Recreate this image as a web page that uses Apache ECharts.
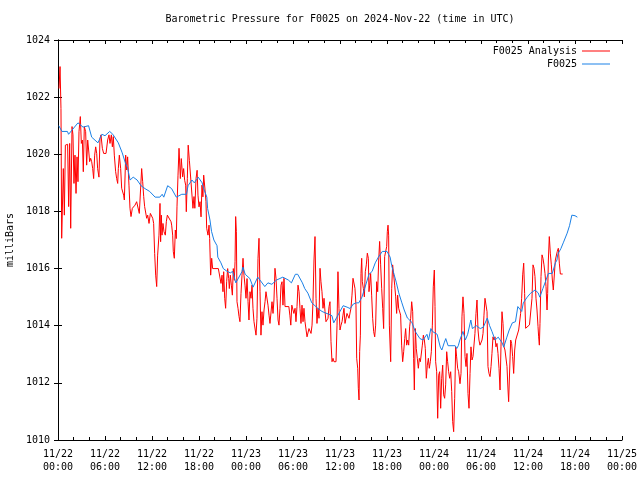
<!DOCTYPE html>
<html><head><meta charset="utf-8">
<script src="https://cdn.jsdelivr.net/npm/echarts@6/dist/echarts.min.js"></script>
<style>html,body{margin:0;padding:0;background:#fff}#c{width:640px;height:480px}</style>
</head><body><div id="c"></div>
<script>
var titleText = 'Barometric Pressure for F0025 on 2024-Nov-22 (time in UTC)';
var seriesNames = ['F0025 Analysis', 'F0025'];
var yTicks = [1010, 1012, 1014, 1016, 1018, 1020, 1022, 1024];
var xTickHours = [0, 6, 12, 18, 24, 30, 36, 42, 48, 54, 60, 66, 72];
var startDay = 22;

var redHours = [0.13,0.26,0.38,0.47,0.68,0.81,0.94,1.23,1.36,1.49,1.62,1.79,1.91,2.04,2.17,2.30,2.43,2.55,2.68,2.85,2.98,3.11,3.23,3.36,3.53,3.66,3.79,3.91,4.04,4.17,4.30,4.43,4.55,4.68,4.81,4.94,5.06,5.23,5.36,5.49,5.66,5.83,6.13,6.34,6.51,6.64,6.81,6.94,7.06,7.19,7.36,7.49,7.62,7.70,7.83,8.00,8.13,8.26,8.38,8.47,8.64,8.77,8.89,9.06,9.19,9.32,9.49,9.83,10.04,10.26,10.38,10.51,10.68,10.81,10.94,11.06,11.19,11.32,11.45,11.62,11.79,11.96,12.09,12.21,12.34,12.47,12.60,12.72,12.89,
13.02,13.10,13.19,13.28,13.40,13.53,13.70,13.83,13.96,14.17,14.43,14.51,14.64,14.72,14.85,14.98,15.10,15.19,15.32,15.45,15.62,15.74,15.91,16.04,16.17,16.30,16.38,16.51,16.62,16.77,16.98,17.23,17.36,17.47,17.62,17.76,17.87,18.00,18.13,18.26,18.38,18.50,18.60,18.77,18.89,18.98,19.15,19.28,19.36,19.49,19.62,19.74,19.87,20.04,20.26,20.47,20.68,20.81,20.94,21.06,21.15,21.28,21.40,21.53,21.66,21.79,21.87,22.00,22.13,22.26,22.38,22.51,22.60,22.68,22.77,22.85,22.98,23.11,23.23,23.36,23.49,23.62,23.74,23.87,24.00,24.13,24.26,24.38,24.51,24.64,24.77,24.89,25.02,
25.28,25.40,25.53,25.66,25.79,25.91,26.04,26.17,26.30,26.43,26.55,26.68,26.81,26.94,27.06,27.19,27.32,27.45,27.57,27.70,27.83,27.96,28.09,28.21,28.34,28.47,28.60,28.72,28.85,28.98,29.47,29.60,29.72,29.85,29.98,30.11,30.26,30.38,30.51,30.64,30.77,30.89,31.02,31.15,31.28,31.40,31.53,31.79,31.91,32.04,32.17,32.30,32.43,32.55,32.68,32.81,32.94,33.06,33.19,33.32,33.45,33.57,33.70,33.83,33.96,34.09,34.21,34.34,34.47,34.60,34.72,34.85,34.98,35.11,35.23,35.36,35.49,35.62,35.74,35.87,36.00,36.13,36.26,36.38,36.51,36.64,36.77,36.89,37.02,37.15,37.28,37.40,37.53,37.66,37.79,37.91,38.04,
38.13,38.26,38.34,38.43,38.51,38.60,38.68,38.77,38.85,38.98,39.11,39.23,39.36,39.49,39.62,39.70,39.79,39.91,40.04,40.17,40.30,40.43,40.55,40.68,40.81,40.94,41.06,41.19,41.32,41.45,41.57,41.70,41.83,41.96,42.04,42.13,42.21,42.30,42.47,42.60,42.72,42.85,42.98,43.11,43.23,43.36,43.49,43.62,43.74,43.87,44.00,44.13,44.26,44.38,44.51,44.64,44.77,44.89,45.02,45.15,45.28,45.40,45.49,45.62,45.74,45.87,46.00,46.13,46.26,46.51,46.64,46.77,46.89,47.02,47.15,47.28,47.40,47.53,47.66,47.79,47.91,48.04,48.13,48.21,48.34,48.47,48.60,48.72,48.85,48.98,49.11,49.23,49.36,49.49,49.62,49.74,49.87,50.00,50.13,50.26,50.38,50.51,50.64,50.77,50.89,51.02,51.15,
51.32,51.45,51.57,51.70,51.83,51.96,52.09,52.21,52.34,52.47,52.60,52.72,52.85,52.98,53.11,53.23,53.36,53.49,53.62,53.74,53.87,54.13,54.26,54.38,54.51,54.64,54.77,54.89,55.02,55.15,55.28,55.40,55.53,55.66,55.79,55.91,56.04,56.17,56.30,56.43,56.55,56.68,56.81,56.94,57.06,57.32,57.45,57.53,57.66,57.79,57.91,58.04,58.17,58.30,58.43,58.55,58.81,59.06,59.19,59.32,59.45,59.57,59.70,59.83,60.19,60.51,60.64,60.77,60.89,61.02,61.15,61.28,61.36,61.45,61.53,61.66,61.79,61.91,62.04,62.17,62.30,62.43,62.51,62.60,62.72,62.85,62.98,63.11,63.23,63.36,63.49,63.62,63.74,63.87,64.00,64.13,64.43];

var redValues = [1022.3,1023.07,1021.6,1017.06,1019.5,1017.87,1020.32,1020.35,1018.17,1020.38,1017.41,1020.97,1020.68,1018.98,1019.97,1018.63,1019.91,1019.04,1020.79,1021.32,1020.38,1020.5,1019.39,1020.97,1020.79,1019.62,1020.5,1020.15,1019.74,1019.86,1019.74,1019.5,1019.15,1019.97,1020.26,1020.03,1019.5,1019.2,1020.56,1020.68,1020.21,1020.03,1020.03,1020.5,1020.68,1020.38,1020.68,1020.26,1020.62,1019.97,1019.39,1019.15,1018.98,1019.5,1019.97,1019.5,1018.81,1018.81,1018.57,1018.4,1019.97,1019.45,1019.91,1018.92,1018.11,1017.82,1018.11,1018.22,1018.34,1018.34,1017.93,1017.87,1019.5,1019.04,1018.52,1018.17,1018.11,1017.76,1017.87,1017.58,1017.93,1017.87,1017.76,1017.58,1016.53,1015.77,1015.37,1016.47,1017.17,
1018.28,1016.94,1017.87,1017.17,1017.58,1017.29,1017.17,1017.64,1017.87,1017.81,1017.64,1017.52,1017.17,1016.59,1016.36,1017.35,1017.05,1018.16,1019.27,1020.21,1019.15,1019.85,1019.21,1019.5,1019.09,1018.92,1017.99,1019.15,1020.32,1019.79,1019.03,1018.11,1018.52,1018.11,1019.15,1019.44,1018.57,1018.16,1018.34,1017.81,1018.92,1018.51,1019.27,1018.75,1018.34,1017.41,1017.17,1017.52,1017.05,1015.77,1016.36,1016.0,1015.95,1016.0,1015.95,1016.0,1016.07,1015.48,1015.77,1015.19,1015.89,1014.96,1014.61,1015.54,1016.0,1015.65,1015.3,1015.77,1015.42,1015.07,1016.0,1015.59,1016.24,1017.82,1017.29,1014.84,1014.61,1014.32,1014.14,1015.12,1015.77,1016.36,1015.77,1015.42,1014.96,1015.65,1014.84,1014.2,1015.19,1014.96,1015.42,1014.61,1014.14,
1013.67,1014.26,1016.36,1017.06,1015.19,1013.67,1014.49,1014.02,1014.55,1014.84,1015.19,1015.13,1014.72,1014.37,1014.08,1014.02,1014.84,1014.43,1014.9,1016.01,1015.66,1014.96,1014.2,1014.02,1014.61,1015.42,1015.54,1014.72,1015.66,1014.67,1014.67,1014.37,1014.02,1014.72,1014.78,1014.43,1014.61,1014.14,1014.67,1015.42,1015.19,1014.61,1014.08,1014.72,1014.14,1014.61,1014.14,1013.61,1013.67,1013.9,1013.9,1013.73,1014.02,1014.84,1016.3,1017.12,1014.96,1014.08,1014.61,1014.26,1016.01,1015.54,1015.19,1014.61,1014.96,1014.49,1014.14,1014.08,1014.26,1014.67,1014.84,1013.44,1012.74,1012.86,1012.74,1012.8,1012.74,1014.02,1015.89,1014.61,1013.85,1014.02,1014.14,1014.37,1014.61,1014.08,1014.14,1014.43,1014.49,1014.26,1014.32,1014.61,1015.07,1015.66,1015.72,1015.31,1014.72,
1012.86,1012.51,1011.81,1011.4,1013.09,1013.67,1015.83,1016.36,1015.54,1015.31,1015.01,1015.89,1016.13,1016.54,1016.36,1015.19,1015.42,1015.83,1015.07,1014.26,1013.79,1013.61,1014.02,1015.54,1015.19,1016.3,1016.95,1016.13,1015.31,1014.61,1013.9,1016.42,1016.36,1016.77,1017.29,1017.52,1017.17,1014.02,1012.74,1015.31,1016.13,1015.78,1015.42,1015.01,1014.43,1015.07,1014.61,1014.67,1014.37,1013.32,1012.74,1013.09,1013.55,1013.9,1013.32,1013.5,1013.32,1013.96,1014.26,1014.84,1014.49,1012.86,1011.75,1013.9,1013.2,1012.86,1012.51,1012.86,1012.74,1013.32,1013.67,1013.5,1013.2,1012.16,1012.62,1012.86,1012.51,1012.74,1013.09,1014.02,1015.36,1015.95,1014.67,1012.74,1012.39,1010.76,1012.27,1012.39,1011.11,1012.16,1012.62,1011.58,1011.46,1011.93,1013.09,1012.74,1012.39,1012.16,1012.39,1011.7,1010.65,1010.29,1011.46,1013.26,1012.91,1012.51,1012.39,
1011.97,1012.33,1014.31,1015.01,1014.43,1012.92,1012.57,1013.03,1011.63,1011.11,1012.33,1013.26,1012.8,1012.92,1012.86,1013.73,1014.43,1014.9,1013.85,1013.5,1013.32,1013.5,1013.73,1014.37,1014.96,1014.9,1014.49,1012.57,1012.33,1012.22,1012.57,1013.03,1013.61,1013.5,1013.61,1013.26,1013.38,1013.03,1012.51,1011.75,1013.26,1014.49,1014.08,1013.26,1013.15,1012.57,1011.75,1011.34,1012.45,1013.5,1013.38,1012.92,1012.33,1013.15,1013.5,1013.56,1013.85,1014.43,1014.96,1015.78,1016.19,1015.13,1013.91,1013.97,1014.03,1014.96,1016.13,1016.01,1015.72,1014.96,1014.55,1013.97,1013.61,1013.32,1014.08,1015.72,1016.48,1016.36,1016.13,1015.83,1015.37,1014.55,1015.13,1016.3,1017.12,1016.54,1016.13,1015.6,1015.25,1015.31,1016.3,1016.36,1016.6,1016.71,1016.19,1015.81,1015.81];

var blueHours = [0.1,0.5,1.2,1.35,2.55,3.2,3.9,4.3,5.1,5.6,6.0,6.6,7.0,7.7,8.2,8.6,8.9,9.2,9.6,10.1,10.6,11.1,11.7,12.4,13.0,13.3,13.5,14.0,14.5,15.1,15.3,15.8,16.4,16.6,17.1,17.4,17.9,18.4,18.6,19.0,19.1,19.4,19.6,19.9,20.3,20.4,20.8,21.1,21.6,22.0,22.3,22.7,23.5,23.6,23.9,24.5,24.9,25.5,26.4,26.8,27.3,27.9,28.7,29.4,29.8,30.3,30.6,31.2,31.5,31.9,32.4,32.8,33.2,33.7,34.1,34.6,34.97,35.2,35.6,36.0,36.4,36.9,37.3,37.7,38.1,38.4,38.8,39.2,39.7,40.1,40.5,40.9,41.4,42.0,42.4,42.6,42.9,43.2,43.5,43.9,44.2,44.6,44.9,45.2,45.6,46.2,46.6,47.1,47.3,47.6,47.8,48.4,48.8,49.0,49.3,49.5,49.8,50.7,50.9,51.1,51.3,51.7,52.0,52.3,52.7,52.9,53.4,53.9,54.3,54.8,55.1,55.4,55.8,56.2,56.7,56.9,57.3,57.6,58.0,58.4,58.7,59.2,59.4,59.9,60.3,60.9,61.3,61.5,61.9,62.3,62.6,63.1,63.5,63.7,63.8,64.2,64.5,65.0,65.3,65.6,66.0,66.3];
var blueValues = [1021.0,1020.8,1020.8,1020.7,1021.1,1020.95,1021.0,1020.6,1020.4,1020.7,1020.65,1020.8,1020.7,1020.4,1020.05,1019.7,1019.5,1019.1,1019.2,1019.1,1018.9,1018.8,1018.7,1018.5,1018.5,1018.6,1018.5,1018.9,1018.8,1018.5,1018.47,1018.6,1018.6,1018.9,1019.1,1019.0,1019.2,1019.0,1018.8,1018.5,1018.1,1017.7,1017.3,1017.0,1016.8,1016.4,1016.2,1016.0,1015.9,1015.85,1015.9,1015.5,1015.9,1016.05,1015.8,1015.65,1015.35,1015.7,1015.37,1015.5,1015.45,1015.6,1015.7,1015.6,1015.5,1015.8,1015.8,1015.5,1015.3,1015.14,1014.8,1014.7,1014.6,1014.5,1014.45,1014.4,1014.35,1014.1,1014.3,1014.5,1014.7,1014.65,1014.6,1014.76,1014.8,1014.8,1015.0,1015.35,1015.8,1015.9,1016.2,1016.4,1016.6,1016.6,1016.4,1016.1,1015.8,1015.5,1015.15,1014.8,1014.55,1014.27,1014.2,1014.1,1013.8,1013.55,1013.5,1013.7,1013.5,1013.9,1013.8,1013.7,1013.25,1013.15,1013.4,1013.55,1013.3,1013.3,1013.2,1013.3,1013.5,1013.8,1013.5,1013.7,1014.2,1013.9,1014.0,1013.9,1013.95,1014.27,1014.0,1013.8,1013.5,1013.6,1013.4,1013.25,1013.6,1013.85,1014.1,1014.14,1014.67,1014.5,1014.8,1015.0,1015.13,1015.25,1015.15,1015.0,1015.3,1015.6,1015.83,1015.83,1016.2,1016.3,1016.5,1016.7,1016.9,1017.24,1017.5,1017.87,1017.85,1017.8];

function pairs(xs, ys) { var out = []; for (var i = 0; i < xs.length; i++) out.push([xs[i], ys[i]]); return out; }
function pad(n) { return (n < 10 ? '0' : '') + n; }
function hourLabel(h) {
  var d = startDay + Math.floor(h / 24);
  var hh = Math.round(h % 24);
  return '11/' + pad(d) + '\n' + pad(hh) + ':00';
}

var font = 'DejaVu Sans Mono';
var chart = echarts.init(document.getElementById('c'), null, {renderer: 'canvas'});
var axisLineStyle = {show: true, lineStyle: {color: '#000', width: 1}};
var tickStyle = {show: true, inside: true, length: 4, lineStyle: {color: '#000', width: 1}};
var minorStyle = {show: true, splitNumber: 3, length: 3, lineStyle: {color: '#000', width: 1}};

chart.setOption({
  animation: false,
  backgroundColor: '#fff',
  title: {
    text: titleText, left: 340, top: 14, textAlign: 'center', padding: 0,
    textStyle: {fontFamily: font, fontSize: 10, fontWeight: 'normal', color: '#000'}
  },
  legend: {
    orient: 'vertical', right: 30, top: 45, align: 'right', padding: 0,
    itemWidth: 28, itemHeight: 1, itemGap: 1, icon: 'rect',
    textStyle: {fontFamily: font, fontSize: 10, color: '#000', lineHeight: 12},
    data: seriesNames
  },
  grid: {left: 58, right: 18, top: 40, bottom: 40, containLabel: false, outerBoundsMode: 'none'},
  xAxis: [{
    type: 'value', min: 0, max: 72, interval: 6,
    axisLine: axisLineStyle, axisTick: tickStyle, minorTick: minorStyle,
    splitLine: {show: false},
    axisLabel: {fontFamily: font, fontSize: 10, color: '#000', margin: 8, lineHeight: 13,
      formatter: function (v) { return xTickHours.indexOf(v) >= 0 ? hourLabel(v) : ''; }}
  }, {
    type: 'value', min: 0, max: 72, interval: 6, position: 'top',
    axisLine: axisLineStyle, axisTick: tickStyle, minorTick: minorStyle,
    splitLine: {show: false}, axisLabel: {show: false}
  }],
  yAxis: [{
    type: 'value', min: yTicks[0], max: yTicks[yTicks.length - 1], interval: 2,
    name: 'milliBars', nameLocation: 'middle', nameGap: 43, nameRotate: 90,
    nameTextStyle: {fontFamily: font, fontSize: 10, color: '#000'},
    axisLine: axisLineStyle, axisTick: tickStyle, splitLine: {show: false},
    axisLabel: {fontFamily: font, fontSize: 10, color: '#000', margin: 8,
      formatter: function (v) { return String(v); }}
  }, {
    type: 'value', min: yTicks[0], max: yTicks[yTicks.length - 1], interval: 2, position: 'right',
    axisLine: axisLineStyle, axisTick: tickStyle, splitLine: {show: false}, axisLabel: {show: false}
  }],
  series: [{
    name: seriesNames[0], type: 'line', data: pairs(redHours, redValues),
    showSymbol: false, symbol: 'none', color: '#ff0000',
    lineStyle: {color: '#ff0000', width: 1}
  }, {
    name: seriesNames[1], type: 'line', data: pairs(blueHours, blueValues),
    showSymbol: false, symbol: 'none', color: '#1a80e6',
    lineStyle: {color: '#1a80e6', width: 1}
  }]
});
</script></body></html>
